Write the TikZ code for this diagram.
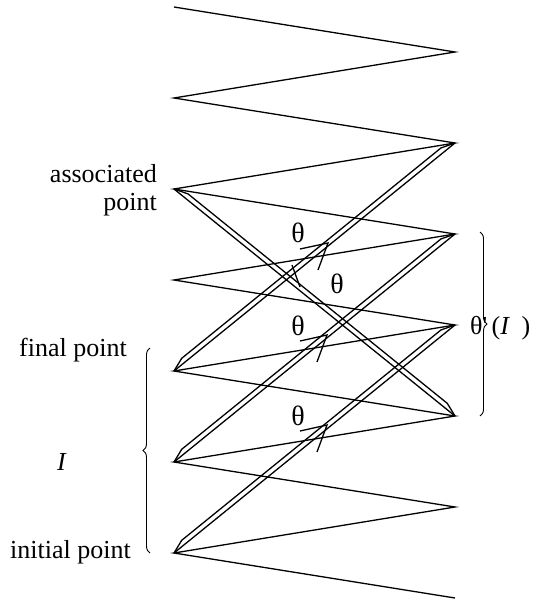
\documentclass[tikz,border=0pt]{standalone}
\usepackage{fontspec}
\setmainfont{Liberation Serif}
\usepackage{tikz}
\usetikzlibrary{calc,decorations.pathreplacing}

% two close lines that meet at both end points
\newcommand{\dbledge}[2]{%
  \draw[line] (#1) -- (#2);
  \draw[line] (#1) -- ($(#1)!14pt!(#2)!5pt!90:(#2)$) -- ($(#2)!14pt!(#1)!5pt!-90:(#1)$) -- (#2);}

\begin{document}
\begin{tikzpicture}[x=1pt,y=-1pt]
  \tikzstyle{line} = [draw, line width=1.3pt]
  \tikzstyle{lbl} = [font=\fontsize{26}{28}\selectfont, inner sep=0pt]
  \tikzstyle{ang} = [font=\fontsize{28}{30}\selectfont, inner sep=0pt]
  \tikzstyle{brc} = [draw, decorate, decoration={brace, amplitude=7pt}, line width=0.9pt]
  \useasboundingbox (0,0) rectangle (548,599);

  % points on the two sides
  \foreach \i in {0,...,6} {
    \coordinate (L\i) at (174,{7+91*\i});
    \coordinate (R\i) at (455,{52+91*\i});
  }

  % zigzag
  \draw[line] (L0) -- (R0) -- (L1) -- (R1) -- (L2) -- (R2) -- (L3) -- (R3)
    -- (L4) -- (R4) -- (L5) -- (R5) -- (L6) -- (R6);

  % double lines
  \dbledge{L6}{R3}
  \dbledge{L5}{R2}
  \dbledge{L4}{R1}
  \dbledge{L2}{R4}

  % labels
  \node[lbl, anchor=east, align=right] (assoc) at (157,190) {associated\\point};
  \node[lbl, anchor=east] (final) at (127,350) {final point};
  \node[lbl, anchor=east] (initial) at (131,552) {initial point};
  \node[lbl] (intv) at (62,462) {\textit{I}};
  \node[lbl, anchor=west] (image) at (470,328) {θ\textquotesingle\,(\textit{I}\;\,)};

  % angles
  \node[ang] (th1) at (298,233) {θ};
  \node[ang] (th2) at (337,284) {θ};
  \node[ang] (th3) at (298,326) {θ};
  \node[ang] (th4) at (298,416) {θ};
  \draw[line] (300,249) -- (328,243) -- (318,270);
  \draw[line] (292,265) -- (300,287);
  \draw[line] (300,341) -- (327,335) -- (317,362);
  \draw[line] (300,431) -- (327,425) -- (317,452);

  % braces
  \draw[brc] (150,553) -- (150,348);
  \draw[brc] (480,232) -- (480,416);
\end{tikzpicture}
\end{document}
